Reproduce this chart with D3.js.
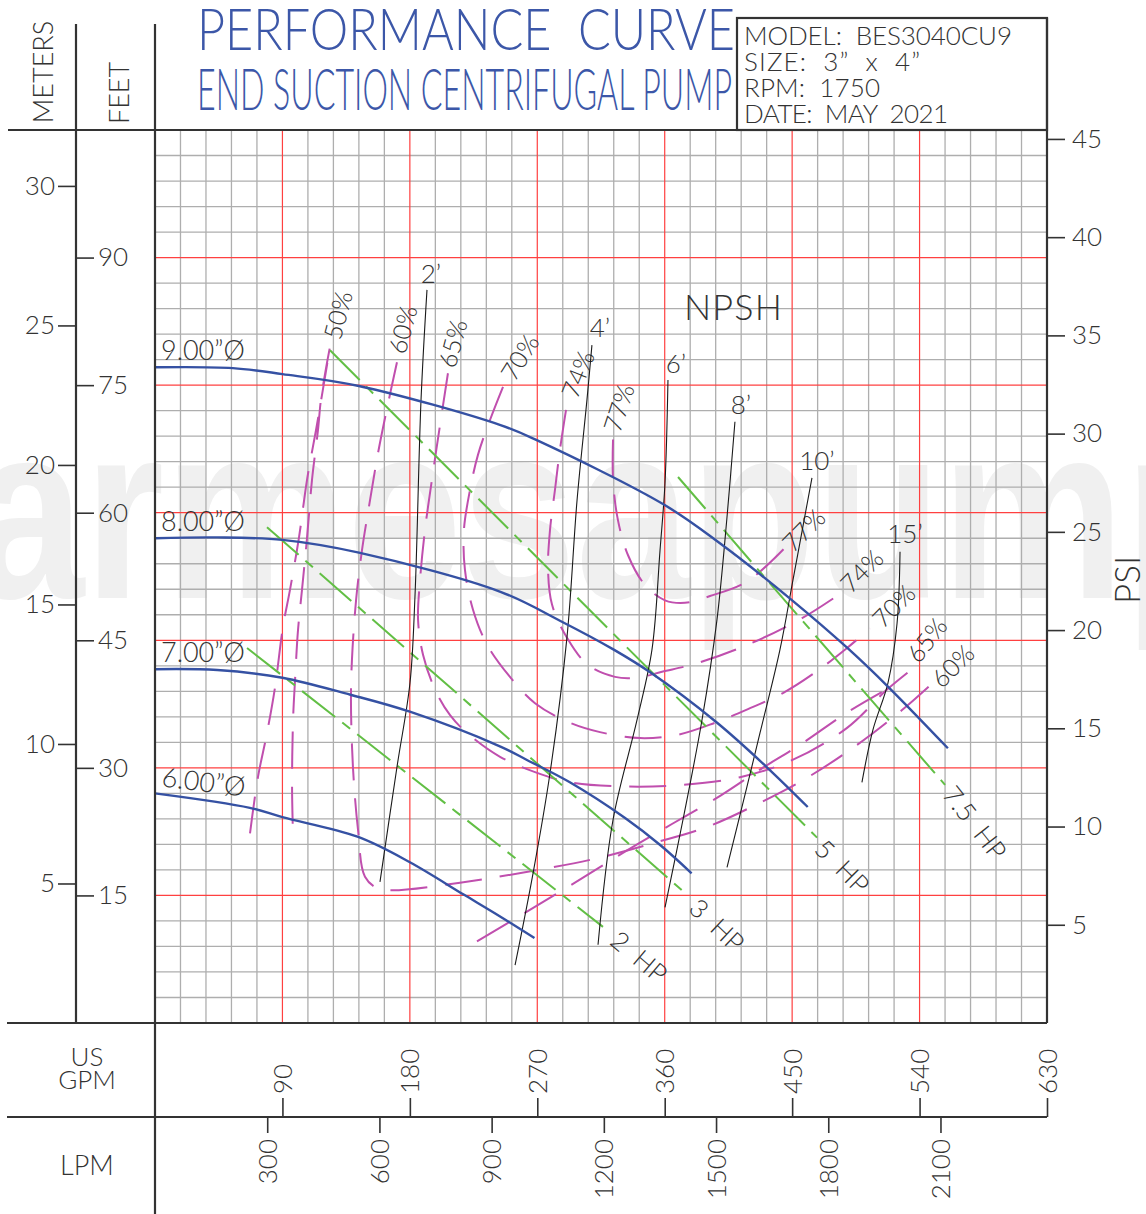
<!DOCTYPE html>
<html>
<head>
<meta charset="utf-8">
<script src="https://cdn.jsdelivr.net/npm/d3@7"></script>
<style>
  body { margin: 0; background: #fff; }
  svg { display: block; }
  text { font-family: Lato, "DejaVu Sans", sans-serif; font-weight: 300; fill: #333; }
</style>
</head>
<body>
<svg id="chart" width="1146" height="1214"></svg>
<script>
// ---- data: flow in US GPM, head in feet ----
const gpmTicks = [90, 180, 270, 360, 450, 540, 630];
const lpmTicks = [300, 600, 900, 1200, 1500, 1800, 2100];
const feetTicks = [15, 30, 45, 60, 75, 90];
const meterTicks = [5, 10, 15, 20, 25, 30];
const psiTicks = [5, 10, 15, 20, 25, 30, 35, 40, 45];

const infoLines = ["MODEL:  BES3040CU9", "SIZE:  3”  x  4”", "RPM:  1750", "DATE:  MAY  2021"];

// impeller head curves
const impellerLabels = ["9.00”Ø", "8.00”Ø", "7.00”Ø", "6.00”Ø"];
const head900 = [[0,77.1],[55,77.0],[90,76.3],[144,74.9],[244,70.3],[270,68.5],[360,60.9],[399,56.4],[450,49.7],[489,44.1],[518,39.5],[560,32.3]];
const head800 = [[0,57.0],[44,57.1],[90,56.8],[144,55.3],[244,50.7],[286,47.3],[324,43.9],[350,41.2],[397,35.3],[432,30.1],[461,25.4]];
const head700 = [[0,41.6],[44,41.5],[90,40.6],[138,38.6],[180,36.6],[244,32.5],[263,30.9],[293,28.3],[332,24.1],[357,20.9],[379,17.6]];
const head600 = [[0,27.0],[67,25.3],[90,24.2],[143,21.9],[180,18.9],[218,15.1],[244,12.5],[268,10.0]];

// efficiency contours
const eff50 = [[67.1,22.3],[72.7,28.9],[79.1,34.1],[84.8,39.5],[90.4,46.6],[95.3,50.9],[101.7,57.1],[107.4,63.9],[113.7,69.7],[117.9,73.8],[121.5,77.4],[123.6,79.5],[120.8,77.0],[117.2,73.3],[115.1,69.7],[110.9,63.9],[107.4,57.1],[103.8,50.9],[101.0,46.2],[98.9,40.3],[97.5,35.6],[96.8,27.8],[97.5,21.9]];
const eff50low = [[227.4,9.6],[262.7,13.1],[296.6,16.5],[330.5,20.0],[365.1,23.4],[400.0,26.8],[427.3,29.8],[455.5,32.7],[488.8,36.5],[513.3,38.9]];
const eff60 = [[170.9,77.7],[163.9,72.3],[157.5,67.0],[151.9,61.5],[146.2,55.6],[142.0,49.7],[139.1,42.7],[138.4,38.0],[139.8,30.1],[143.4,22.7],[148.3,17.2],[157.5,15.8],[168.1,15.6],[215.4,16.5],[274.0,18.1],[312.9,19.4],[353.1,21.2],[390.6,23.1],[427.3,25.9],[461.2,28.9],[495.8,32.7],[527.6,36.8],[547.4,39.7]];
const eff65 = [[206.9,76.4],[201.3,70.3],[195.6,63.9],[190.7,58.0],[187.2,52.1],[185.8,47.4],[189.3,43.3],[197.8,39.2],[208.4,36.2],[220.4,34.1],[243.7,31.3],[268.4,29.5],[293.1,28.3],[333.4,27.8],[372.9,28.0],[413.2,28.9],[449.9,30.9],[488.8,34.7],[517.0,39.2],[535.4,41.7]];
const eff70 = [[245.8,74.8],[236.6,70.9],[228.1,66.8],[222.5,62.7],[218.2,58.0],[218.9,53.3],[224.6,48.6],[234.5,44.5],[250.7,40.7],[268.4,37.6],[291.7,35.4],[314.3,34.2],[342.5,33.5],[369.4,33.9],[395.5,35.3],[418.8,36.9],[443.5,38.8],[466.1,41.2],[488.8,44.1],[505.0,46.4]];
const eff74 = [[290.3,72.1],[286.0,67.4],[282.5,62.7],[279.0,58.0],[277.6,53.3],[280.4,49.2],[291.0,45.3],[305.8,42.1],[324.9,40.7],[340.4,40.6],[358.1,41.3],[382.8,42.3],[421.7,44.7],[457.0,47.6],[482.4,50.3]];
const eff77 = [[323.5,68.6],[323.5,63.9],[327.0,59.1],[334.1,55.0],[346.1,51.5],[360.2,49.7],[374.3,49.4],[392.0,50.2],[418.1,51.9],[445.0,55.9]];

// motor power limit lines
const hp2 = [[65.0,44.1],[316.4,11.3]];
const hp3 = [[79.1,58.3],[374.3,15.3]];
const hp5 = [[123.6,79.1],[467.6,21.8]];
const hp75 = [[369.4,64.2],[432.2,52.1],[558.0,28.0]];

// NPSH required lines
const npsh2 = [[192.1,86.2],[187.9,73.3],[183.6,50.1],[180.1,40.0],[170.9,30.1],[158.9,16.6]];
const npsh4 = [[308.6,79.7],[305.1,73.3],[298.1,61.5],[291.0,45.4],[279.0,29.4],[267.0,17.6],[254.3,6.8]];
const npsh6 = [[362.3,75.6],[360.2,63.5],[356.7,55.6],[351.0,43.9],[340.4,35.6],[323.5,23.9],[312.9,9.2]];
const npsh8 = [[409.6,70.7],[404.0,59.5],[396.9,47.4],[386.3,35.6],[372.9,23.9],[360.2,13.6]];
const npsh10 = [[464.0,64.1],[450.6,52.1],[441.4,43.9],[427.3,34.1],[418.1,27.8],[404.0,18.3]];
const npsh15 = [[526.2,55.4],[524.1,47.0],[517.7,40.0],[507.1,34.5],[499.3,28.3]];

// ---- layout ----
const svg = d3.select("#chart");
const plot = { left: 155, right: 1047, top: 130, bottom: 1023 };
const frame = "#333";

const x = d3.scaleLinear().domain([0, 630]).range([plot.left, plot.right]);
const y = d3.scaleLinear().domain([0, 105]).range([plot.bottom, plot.top]);
const yM = d3.scaleLinear().domain([0, 105 / 3.28084]).range([plot.bottom, plot.top]);
const yP = d3.scaleLinear().domain([0, 105 / 2.31]).range([plot.bottom, plot.top]);
const xL = d3.scaleLinear().domain([0, 630 * 3.78541]).range([plot.left, plot.right]);

svg.append("rect").attr("width", 1146).attr("height", 1214).attr("fill", "#fff");

// watermark
svg.append("text")
    .text("armesapump")
    .attr("x", -30).attr("y", 598)
    .attr("font-size", 250)
    .attr("textLength", 1280).attr("lengthAdjust", "spacingAndGlyphs")
    .style("font-family", "'Liberation Sans Narrow', 'Liberation Sans', sans-serif")
    .style("font-weight", 700)
    .style("fill", "#f0f0f0");

// grid
const grid = svg.append("g");
grid.selectAll(".vg").data(d3.range(18, 630, 18).filter(v => v % 90))
    .join("line")
    .attr("x1", d => x(d)).attr("x2", d => x(d))
    .attr("y1", plot.top).attr("y2", plot.bottom)
    .attr("stroke", "#aeaeae").attr("stroke-width", 1.3);
grid.selectAll(".hg").data(d3.range(3, 105, 3).filter(v => v % 15))
    .join("line")
    .attr("y1", d => y(d)).attr("y2", d => y(d))
    .attr("x1", plot.left).attr("x2", plot.right)
    .attr("stroke", "#aeaeae").attr("stroke-width", 1.3);
grid.selectAll(".vr").data(gpmTicks.slice(0, -1))
    .join("line")
    .attr("x1", d => x(d)).attr("x2", d => x(d))
    .attr("y1", plot.top).attr("y2", plot.bottom)
    .attr("stroke", "#ff4040").attr("stroke-width", 1.2);
grid.selectAll(".hr").data(feetTicks)
    .join("line")
    .attr("y1", d => y(d)).attr("y2", d => y(d))
    .attr("x1", plot.left).attr("x2", plot.right)
    .attr("stroke", "#ff4040").attr("stroke-width", 1.2);

const smooth = d3.line().x(d => x(d[0])).y(d => y(d[1])).curve(d3.curveCatmullRom.alpha(0.5));
const straight = d3.line().x(d => x(d[0])).y(d => y(d[1]));

// efficiency contours
const effCurves = [
    { pct: "50%", pts: eff50, left: [7, -32, -75] },
    { pct: "60%", pts: eff60, left: [5, -33, -75], right: [22, -20, -45] },
    { pct: "65%", pts: eff65, left: [4, -30, -75], right: [13, -29, -52] },
    { pct: "70%", pts: eff70, left: [16, -30, -58], right: [23, -23, -45] },
    { pct: "74%", pts: eff74, left: [11, -36, -68], right: [23, -25, -45] },
    { pct: "77%", pts: eff77, left: [5, -32, -72], right: [18, -18, -45] },
    { pct: "", pts: eff50low }
];
const effG = svg.append("g");
effCurves.forEach(c => {
    effG.append("path").attr("d", smooth(c.pts))
        .attr("fill", "none").attr("stroke", "#c04fae").attr("stroke-width", 2)
        .attr("stroke-dasharray", "37,18");
});

// HP lines
const hpLines = [
    { name: "2  HP", pts: hp2, lab: [12, 9, 40] },
    { name: "3  HP", pts: hp3, lab: [9, 10, 43] },
    { name: "5  HP", pts: hp5, lab: [3, 6, 45] },
    { name: "7.5  HP", pts: hp75, lab: [4, 4, 52] }
];
const hpG = svg.append("g");
hpLines.forEach(h => {
    hpG.append("path").attr("d", straight(h.pts))
        .attr("fill", "none").attr("stroke", "#62bf45").attr("stroke-width", 2)
        .attr("stroke-dasharray", "42,9,10,9");
    const end = h.pts[h.pts.length - 1];
    hpG.append("text").text(h.name)
        .attr("transform", `translate(${x(end[0]) + h.lab[0]},${y(end[1]) + h.lab[1]}) rotate(${h.lab[2]})`)
        .attr("dominant-baseline", "central")
        .attr("font-size", 26).style("white-space", "pre");
});

// NPSH lines
const npshLines = [
    { name: "2’", pts: npsh2, lab: [4, -7] },
    { name: "4’", pts: npsh4, lab: [8, -8] },
    { name: "6’", pts: npsh6, lab: [8, -7] },
    { name: "8’", pts: npsh8, lab: [6, -8] },
    { name: "10’", pts: npsh10, lab: [5, -8] },
    { name: "15’", pts: npsh15, lab: [5, -9] }
];
const npG = svg.append("g");
npshLines.forEach(n => {
    npG.append("path").attr("d", smooth(n.pts))
        .attr("fill", "none").attr("stroke", "#1a1a1a").attr("stroke-width", 1.1);
    const top = n.pts[0];
    npG.append("text").text(n.name)
        .attr("x", x(top[0]) + n.lab[0]).attr("y", y(top[1]) + n.lab[1])
        .attr("text-anchor", "middle").attr("font-size", 26);
});
npG.append("text").text("NPSH")
    .attr("x", 733).attr("y", 320).attr("text-anchor", "middle")
    .attr("font-size", 36).attr("textLength", 98).attr("lengthAdjust", "spacing");

// head curves
const heads = [head900, head800, head700, head600];
const headG = svg.append("g");
heads.forEach((h, i) => {
    headG.append("path").attr("d", smooth(h))
        .attr("fill", "none").attr("stroke", "#3551a3").attr("stroke-width", 2.4);
    const p = h[0];
    const tx = x(p[0]) + 6, ty = y(p[1]) - 7;
    headG.append("text").text(impellerLabels[i])
        .attr("transform", i === 3 ? `translate(${tx},${ty}) rotate(7)` : `translate(${tx},${ty})`)
        .attr("font-size", 27);
});

// efficiency labels
effCurves.forEach(c => {
    if (!c.pct) return;
    const topPt = d3.greatest(c.pts, d => d[1]);
    effG.append("text").text(c.pct)
        .attr("transform", `translate(${x(topPt[0]) + c.left[0]},${y(topPt[1]) + c.left[1]}) rotate(${c.left[2]})`)
        .attr("text-anchor", "middle").attr("dominant-baseline", "central").attr("font-size", 25);
    if (c.right) {
        const endPt = c.pts[c.pts.length - 1];
        effG.append("text").text(c.pct)
            .attr("transform", `translate(${x(endPt[0]) + c.right[0]},${y(endPt[1]) + c.right[1]}) rotate(${c.right[2]})`)
            .attr("text-anchor", "middle").attr("dominant-baseline", "central").attr("font-size", 25);
    }
});

// ---- axes ----
function styleAxis(g) {
    g.attr("font-size", 26).attr("color", frame);
    g.select(".domain").remove();
    g.selectAll(".tick line").attr("stroke-width", 1.6);
}
svg.append("g").attr("transform", "translate(76,0)")
    .call(d3.axisLeft(yM).tickValues(meterTicks).tickSize(18).tickPadding(3))
    .call(styleAxis);
svg.append("g").attr("transform", "translate(76,0)")
    .call(d3.axisRight(y).tickValues(feetTicks).tickSize(18).tickPadding(4))
    .call(styleAxis);
svg.append("g").attr("transform", `translate(${plot.right},0)`)
    .call(d3.axisRight(yP).tickValues(psiTicks).tickSize(18).tickPadding(7))
    .call(styleAxis);
const gAx = svg.append("g").attr("transform", "translate(0,1117)")
    .call(d3.axisTop(x).tickValues(gpmTicks).tickSize(19).tickFormat(d3.format("d")))
    .call(styleAxis);
gAx.selectAll("text").attr("transform", "rotate(-90)")
    .attr("x", 23).attr("y", 0).attr("dy", "0.35em").attr("text-anchor", "start");
const lAx = svg.append("g").attr("transform", "translate(0,1117)")
    .call(d3.axisBottom(xL).tickValues(lpmTicks).tickSize(16).tickFormat(d3.format("d")))
    .call(styleAxis);
lAx.selectAll("text").attr("transform", "rotate(-90)")
    .attr("x", -22).attr("y", 0).attr("dy", "0.35em").attr("text-anchor", "end");

// ---- frame lines ----
const fr = svg.append("g").attr("stroke", frame).attr("stroke-width", 2.2);
fr.append("line").attr("x1", 8).attr("x2", plot.right).attr("y1", plot.top).attr("y2", plot.top);
fr.append("line").attr("x1", 7).attr("x2", plot.right).attr("y1", plot.bottom).attr("y2", plot.bottom);
fr.append("line").attr("x1", 7).attr("x2", plot.right).attr("y1", 1117).attr("y2", 1117);
fr.append("line").attr("x1", 76).attr("x2", 76).attr("y1", 24).attr("y2", plot.bottom);
fr.append("line").attr("x1", plot.left).attr("x2", plot.left).attr("y1", 24).attr("y2", 1214);
fr.append("line").attr("x1", plot.right).attr("x2", plot.right).attr("y1", 18).attr("y2", plot.bottom);
fr.append("rect").attr("x", 737).attr("y", 18).attr("width", plot.right - 737).attr("height", plot.top - 18).attr("fill", "none");

// ---- headers ----
svg.append("text").text("PERFORMANCE  CURVE")
    .attr("x", 197).attr("y", 50).attr("font-size", 58)
    .attr("textLength", 538).attr("lengthAdjust", "spacingAndGlyphs")
    .style("fill", "#3c57a8").style("white-space", "pre");
svg.append("text").text("END SUCTION CENTRIFUGAL PUMP")
    .attr("x", 197).attr("y", 110).attr("font-size", 58)
    .attr("textLength", 535).attr("lengthAdjust", "spacingAndGlyphs")
    .style("fill", "#3c57a8");

const infoWidths = [268, 176, 136, 204];
infoLines.forEach((t, i) => {
    svg.append("text").text(t)
        .attr("x", 744).attr("y", 45 + i * 26).attr("font-size", 26)
        .attr("textLength", infoWidths[i]).attr("lengthAdjust", "spacing")
        .style("white-space", "pre");
});

function vLabel(t, cx, cy, size) {
    svg.append("text").text(t)
        .attr("transform", `translate(${cx},${cy}) rotate(-90)`)
        .attr("text-anchor", "middle").attr("dominant-baseline", "central")
        .attr("font-size", size);
}
vLabel("METERS", 42, 72, 27);
vLabel("FEET", 118, 93, 27);
vLabel("PSI", 1126, 580, 35);

svg.append("text").text("US").attr("x", 87).attr("y", 1066).attr("text-anchor", "middle").attr("font-size", 26);
svg.append("text").text("GPM").attr("x", 87).attr("y", 1089).attr("text-anchor", "middle").attr("font-size", 26);
svg.append("text").text("LPM").attr("x", 87).attr("y", 1175).attr("text-anchor", "middle").attr("font-size", 27);
</script>
</body>
</html>
